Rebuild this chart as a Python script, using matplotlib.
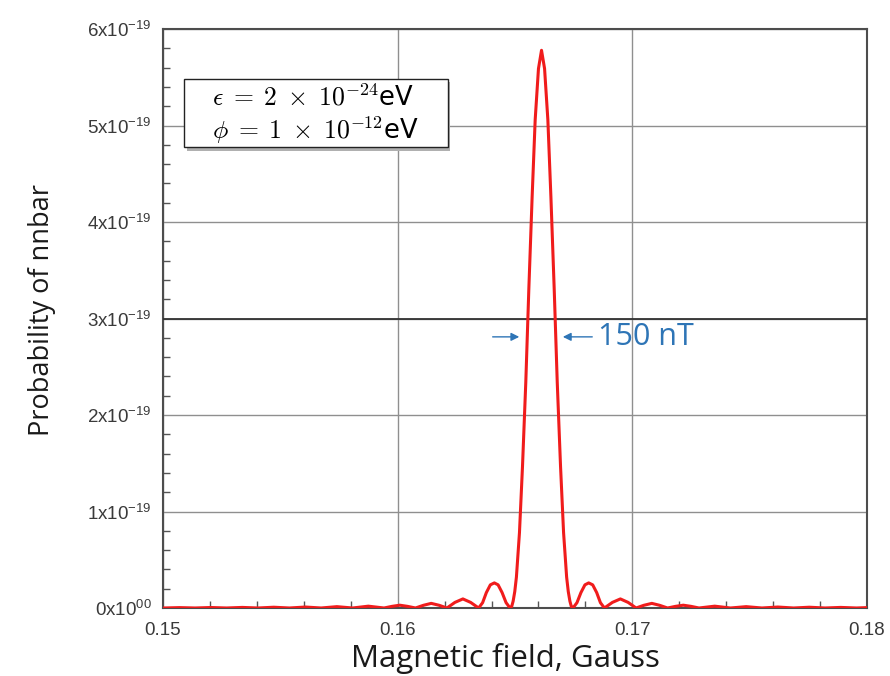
import matplotlib
matplotlib.use("Agg")
import matplotlib.pyplot as plt
from matplotlib.patches import Rectangle
from matplotlib.ticker import MultipleLocator, FixedLocator, FixedFormatter

# Magnetic field (Gauss) and probability (in units of 1e-19)
field = [0.1500, 0.15003, 0.15070, 0.15137, 0.15204, 0.15271, 0.15338, 0.15405, 0.15472,
         0.15539, 0.15607, 0.15674, 0.15741, 0.15808, 0.15875, 0.15942, 0.15976, 0.16009, 0.16042,
         0.16076, 0.16110, 0.16143, 0.16177, 0.16210, 0.16244, 0.16278, 0.16311,
         0.16345, 0.16362, 0.16378, 0.16395, 0.16412, 0.16428, 0.16445, 0.16462, 0.16479,
         0.16486, 0.16492, 0.16499, 0.16506, 0.16519, 0.16532, 0.16546, 0.16559, 0.16573,
         0.16586, 0.16600, 0.16613,
         0.16626, 0.16640, 0.16653, 0.16667, 0.16680, 0.16694, 0.16707, 0.16720, 0.16727,
         0.16734, 0.16740, 0.16747, 0.16764, 0.16781, 0.16798, 0.16814, 0.16831, 0.16848,
         0.16864, 0.16881, 0.16915, 0.16949, 0.16982, 0.17016,
         0.17049, 0.17083, 0.17116, 0.17150, 0.17184, 0.17217, 0.17250, 0.17284, 0.17351, 0.17418,
         0.17485, 0.17552, 0.17620, 0.17687, 0.17754, 0.17821, 0.17888, 0.17955, 0.1800]
prob = [0.0, 0.0, 0.004, 0.0, 0.005, 0.0, 0.006, 0.0, 0.008,
        0.0, 0.010, 0.0, 0.014, 0.0, 0.019, 0.0, 0.017, 0.029, 0.017,
        0.0, 0.028, 0.048, 0.028, 0.0, 0.058, 0.094, 0.058,
        0.0, 0.055, 0.16, 0.24, 0.26, 0.24, 0.16, 0.055, 0.0,
        0.016, 0.07, 0.17, 0.32, 0.78, 1.47, 2.34, 3.31, 4.26,
        5.06, 5.59, 5.78,
        5.59, 5.06, 4.26, 3.31, 2.34, 1.47, 0.78, 0.32, 0.17,
        0.07, 0.016, 0.0, 0.055, 0.16, 0.24, 0.26, 0.24, 0.16,
        0.055, 0.0, 0.058, 0.094, 0.058, 0.0,
        0.028, 0.048, 0.028, 0.0, 0.017, 0.029, 0.017, 0.0, 0.019, 0.0,
        0.014, 0.0, 0.010, 0.0, 0.008, 0.0, 0.006, 0.0, 0.004]

x_ticks = [0.15, 0.16, 0.17, 0.18]
x_labels = ["0.15", "0.16", "0.17", "0.18"]
y_ticks = [0, 1e-19, 2e-19, 3e-19, 4e-19, 5e-19, 6e-19]
y_labels = [r"$\mathregular{0x10^{00}}$"] + [r"$\mathregular{%dx10^{-19}}$" % i for i in range(1, 7)]

width_text = "150 nT"
box_lines = [r"$\epsilon\;=\;2\;\times\;10^{-24}$eV", r"$\phi\;=\;1\;\times\;10^{-12}$eV"]

plt.rcParams["font.family"] = ["Liberation Sans", "DejaVu Sans"]

fig = plt.figure(figsize=(8.9, 6.76), dpi=100)
ax = fig.add_axes([0.1831, 0.1006, 0.9742 - 0.1831, 0.957 - 0.1006])

ax.plot(field, [p * 1e-19 for p in prob], color="#f01c1c", lw=2.2, zorder=4)

ax.set_xlim(0.15, 0.18)
ax.set_ylim(0, 6e-19)
ax.xaxis.set_major_locator(FixedLocator(x_ticks))
ax.xaxis.set_major_formatter(FixedFormatter(x_labels))
ax.xaxis.set_minor_locator(MultipleLocator(0.002))
ax.yaxis.set_major_locator(FixedLocator(y_ticks))
ax.yaxis.set_major_formatter(FixedFormatter(y_labels))
ax.yaxis.set_minor_locator(MultipleLocator(0.2e-19))
ax.tick_params(which="both", direction="in", color="#555555", labelcolor="#3a3a3a")
ax.tick_params(which="major", length=0, labelsize=13.5)
ax.tick_params(axis="x", which="major", pad=10)
ax.tick_params(axis="y", which="major", pad=8)
ax.tick_params(which="minor", length=5, width=1)
for s in ax.spines.values():
    s.set_color("#4d4d4d")
    s.set_linewidth(1.5)

ax.grid(True, which="major", color="#8f8f8f", lw=1.0)
ax.axhline(3e-19, color="#333333", lw=1.3, zorder=3)

ax.set_xlabel("Magnetic field, Gauss", fontsize=22.5, family="Open Sans", color="#1a1a1a")
ax.set_ylabel("Probability of nnbar", fontsize=19.5, family="Open Sans", color="#1a1a1a")
ax.xaxis.set_label_coords(0.487, -0.06)
ax.yaxis.set_label_coords(-0.152, 0.515)

# parameter box with drop shadow
ax.add_patch(Rectangle((0.0335, 0.79), 0.374, 0.118, transform=ax.transAxes,
                       facecolor="#b0b0b0", edgecolor="none", zorder=5))
ax.add_patch(Rectangle((0.0305, 0.7955), 0.374, 0.118, transform=ax.transAxes,
                       facecolor="white", edgecolor="#222222", lw=1.0, zorder=6))
ax.text(0.07, 0.88, box_lines[0], transform=ax.transAxes, fontsize=18.5, ha="left", va="center",
        math_fontfamily="cm", family="DejaVu Sans", zorder=7)
ax.text(0.07, 0.826, box_lines[1], transform=ax.transAxes, fontsize=18.5, ha="left", va="center",
        math_fontfamily="cm", family="DejaVu Sans", zorder=7)

# width annotation
blue = "#2e75b6"
ax.annotate("", xy=(0.16530, 2.81e-19), xytext=(0.16393, 2.81e-19),
            arrowprops=dict(arrowstyle="-|>", color=blue, lw=1.0, mutation_scale=12), zorder=8)
ax.annotate("", xy=(0.16692, 2.81e-19), xytext=(0.16841, 2.81e-19),
            arrowprops=dict(arrowstyle="-|>", color=blue, lw=1.0, mutation_scale=12), zorder=8)
ax.text(0.16852, 2.81e-19, width_text, color=blue, fontsize=22, family="Open Sans",
        ha="left", va="center", zorder=8)

fig.savefig("out.png", dpi=100)
